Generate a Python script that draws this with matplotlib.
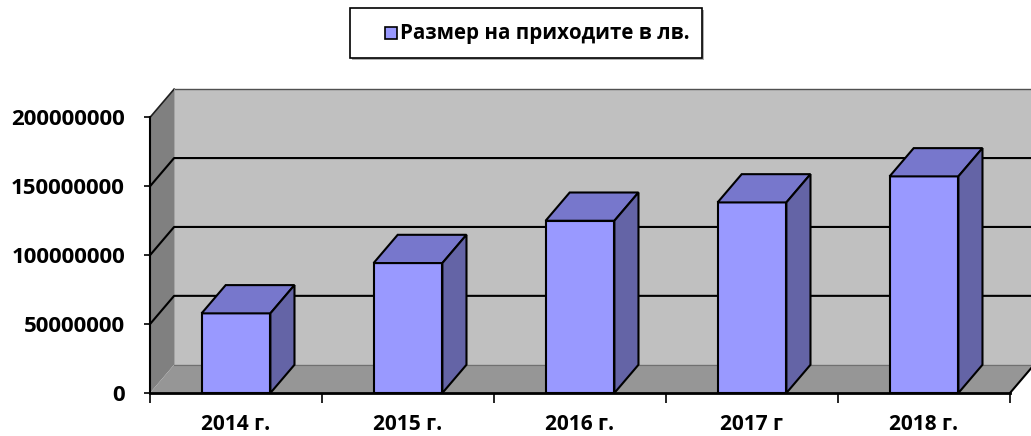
import numpy as np
import matplotlib
matplotlib.use('Agg')
import matplotlib.pyplot as plt
from matplotlib.patches import Polygon, Rectangle

# values
years = ['2014 г.', '2015 г.', '2016 г.', '2017 г', '2018 г.']
income = [57800000, 94300000, 125000000, 138300000, 157200000]
legend_label = 'Размер на приходите в лв.'
y_ticks = [0, 50000000, 100000000, 150000000, 200000000]

plt.rcParams['font.family'] = ['Open Sans', 'DejaVu Sans']
plt.rcParams['font.weight'] = 'bold'

# colours (Excel 2003 style 3D column)
FRONT = '#9999FF'
TOP = '#7777CC'
SIDE = '#6464A6'
BACK_WALL = '#C0C0C0'
SIDE_WALL = '#808080'
FLOOR = '#969696'

# depth of the 3D box in data units
DX = 0.14
DY = 20.5e6
YMAX = 200000000
n = len(years)

W, H = 1031, 436
fig = plt.figure(figsize=(W / 100, H / 100), dpi=100)
ax = fig.add_axes([150/W, 43/H, 860/W, 275.6/H])
ax.set_xlim(0, n)
ax.set_ylim(0, YMAX)

def poly(pts, fc, ec='none', lw=0, z=1):
    ax.add_patch(Polygon(pts, closed=True, facecolor=fc, edgecolor=ec,
                         linewidth=lw, zorder=z, clip_on=False))

# walls and floor
poly([(DX, DY), (n + DX, DY), (n + DX, YMAX + DY), (DX, YMAX + DY)], BACK_WALL, z=0.5)
poly([(0, 0), (DX, DY), (DX, YMAX + DY), (0, YMAX)], SIDE_WALL, z=0.6)
poly([(0, 0), (n, 0), (n + DX, DY), (DX, DY)], FLOOR, z=0.7)

# wall edges
ax.plot([DX, n + DX], [YMAX + DY, YMAX + DY], color='#505050', lw=1, clip_on=False, zorder=0.8)
ax.plot([0, DX], [YMAX, YMAX + DY], color='#202020', lw=1.2, clip_on=False, zorder=0.8)
ax.plot([DX, DX], [DY, YMAX + DY], color='#a0a0a0', lw=0.6, clip_on=False, zorder=0.8)
ax.plot([DX, n + DX], [DY, DY], color='#707070', lw=0.8, clip_on=False, zorder=0.8)

# gridlines across side wall and back wall
for v in y_ticks[1:-1]:
    ax.plot([0, DX, n + DX], [v, v + DY, v + DY], color='black', lw=1.5,
            clip_on=False, zorder=0.9)

# front edges of the box
ax.plot([0, n], [0, 0], color='black', lw=2, clip_on=False, zorder=1)
ax.plot([0, 0], [0, YMAX], color='black', lw=1.5, clip_on=False, zorder=1)
ax.plot([n, n + DX], [0, DY], color='black', lw=1.5, clip_on=False, zorder=1)

# columns
xc = np.arange(n) + 0.5
w = 0.40
bars = ax.bar(xc, income, width=w, color=FRONT, edgecolor='black', linewidth=1.5,
              zorder=3, label=legend_label)
for b in bars:
    x0 = b.get_x()
    x1 = x0 + b.get_width()
    v = b.get_height()
    poly([(x0, v), (x1, v), (x1 + DX, v + DY), (x0 + DX, v + DY)], TOP, 'black', 1.5, 3)
    poly([(x1, 0), (x1, v), (x1 + DX, v + DY), (x1 + DX, DY)], SIDE, 'black', 1.5, 3)

for s in ax.spines.values():
    s.set_visible(False)

ax.set_yticks(y_ticks)
ax.set_yticklabels([str(t) for t in y_ticks], fontsize=16, fontweight='bold')
ax.tick_params(axis='y', length=4, width=1.2, pad=14)

ax.set_xticks(xc)
ax.set_xticklabels(years, fontsize=15, fontweight='bold')
ax.set_xticks(np.arange(n + 1), minor=True)
ax.tick_params(axis='x', which='major', length=0, pad=15)
ax.tick_params(axis='x', which='minor', length=7, width=1.2, direction='out')

# legend box drawn by hand (Excel style: box, small key, text)
def fx(px):
    return px / W

def fy(py):
    return 1 - py / H

fig.add_artist(Rectangle((fx(352), fy(60)), fx(352) - fx(0), fy(8) - fy(58),
                         transform=fig.transFigure, facecolor='#b0b0b0',
                         edgecolor='none', zorder=1))
fig.add_artist(Rectangle((fx(350), fy(58)), fx(352) - fx(0), fy(8) - fy(58),
                         transform=fig.transFigure, facecolor='white',
                         edgecolor='black', linewidth=1.2, zorder=2))
fig.add_artist(Rectangle((fx(385), fy(39)), fx(12), fy(27) - fy(39),
                         transform=fig.transFigure, facecolor=FRONT,
                         edgecolor='black', linewidth=1.2, zorder=3))
fig.text(fx(400), fy(33), legend_label, fontsize=14.8, fontweight='bold',
         ha='left', va='center', zorder=3)

fig.savefig('out.png', dpi=100)
